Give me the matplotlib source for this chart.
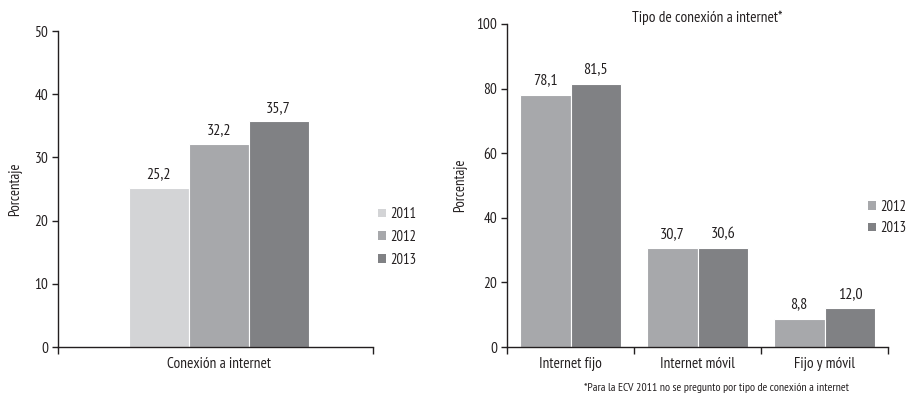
import matplotlib
matplotlib.use("Agg")
import matplotlib.pyplot as plt
from matplotlib.patches import Patch
import numpy as np

# =========================
# DATA
# =========================
years_left = ["2011", "2012", "2013"]
values_left = [25.2, 32.2, 35.7]
category_left = "Conexión a internet"

categories_right = ["Internet fijo", "Internet móvil", "Fijo y móvil"]
years_right = ["2012", "2013"]
values_2012 = [78.1, 30.7, 8.8]
values_2013 = [81.5, 30.6, 12.0]

title_right = "Tipo de conexión a internet*"
footnote = "*Para la ECV 2011 no se pregunto por tipo de conexión a internet"

colors = {"2011": "#d3d4d6", "2012": "#a7a8ab", "2013": "#808184"}

plt.rcParams["font.family"] = ["PT Sans Narrow", "DejaVu Sans"]
plt.rcParams["font.size"] = 10.5
plt.rcParams["text.color"] = "#231f20"
plt.rcParams["axes.labelcolor"] = "#231f20"
plt.rcParams["xtick.color"] = "#231f20"
plt.rcParams["ytick.color"] = "#231f20"


def fmt(v):
    return f"{v:.1f}".replace(".", ",")


def style_axes(ax, pad):
    for s in ("top", "right"):
        ax.spines[s].set_visible(False)
    for s in ("left", "bottom"):
        ax.spines[s].set_color("#231f20")
        ax.spines[s].set_linewidth(1.0)
    ax.tick_params(axis="y", length=4, width=1, pad=3, labelsize=11)
    ax.tick_params(axis="x", which="major", length=0, pad=7, labelsize=11)
    ax.tick_params(axis="x", which="minor", length=5, width=1)
    ax.set_ylabel("Porcentaje", fontsize=10.5, labelpad=pad)


fig = plt.figure(figsize=(9.08, 3.96), dpi=100)

# ---- LEFT ----
ax1 = fig.add_axes([0.0639, 0.1237, 0.347, 0.798])
w = 0.19
for i, (yr, v) in enumerate(zip(years_left, values_left)):
    x = (i - 1) * w
    ax1.bar(x, v, width=w, color=colors[yr], edgecolor="white", linewidth=0.8)
    ax1.text(x, v + 1.0, fmt(v), ha="center", va="bottom", fontsize=11.5)
ax1.set_xlim(-0.51, 0.49)
ax1.set_ylim(0, 50)
ax1.set_yticks(np.arange(0, 51, 10))
ax1.set_xticks([0])
ax1.set_xticklabels([category_left])
ax1.set_xticks([-0.51, 0.49], minor=True)
style_axes(ax1, 9)

handles = [Patch(facecolor=colors[y], edgecolor="none") for y in years_left]
fig.legend(handles, years_left, loc="center left", bbox_to_anchor=(0.416, 0.4015),
           frameon=False, borderpad=0, borderaxespad=0, handlelength=0.55,
           handleheight=0.55, handletextpad=0.3, labelspacing=0.6, fontsize=10.5)

# ---- RIGHT ----
ax2 = fig.add_axes([0.5584, 0.1237, 0.4196, 0.8157])
xr = np.arange(len(categories_right))
w2 = 0.4
for j, (yr, vals) in enumerate(zip(years_right, [values_2012, values_2013])):
    xs = xr + (j - 0.5) * w2
    ax2.bar(xs, vals, width=w2, color=colors[yr], edgecolor="white", linewidth=0.8)
    for x, v in zip(xs, vals):
        ax2.text(x, v + 2.2, fmt(v), ha="center", va="bottom", fontsize=11.5)
ax2.set_xlim(-0.5, len(categories_right) - 0.5)
ax2.set_ylim(0, 100)
ax2.set_yticks(np.arange(0, 101, 20))
ax2.set_xticks(xr)
ax2.set_xticklabels(categories_right)
ax2.set_xticks(np.arange(-0.5, len(categories_right), 1), minor=True)
style_axes(ax2, 7)
fig.text(707 / 908, 1 - 18 / 396, title_right, ha="center", va="center", fontsize=11)
fig.text(716 / 908, 1 - 388 / 396, footnote, ha="center", va="center", fontsize=8.5)

handles2 = [Patch(facecolor=colors[y], edgecolor="none") for y in years_right]
fig.legend(handles2, years_right, loc="center left", bbox_to_anchor=(0.956, 0.4508),
           frameon=False, borderpad=0, borderaxespad=0, handlelength=0.55,
           handleheight=0.55, handletextpad=0.3, labelspacing=0.5, fontsize=10.5)

fig.savefig("out.png", dpi=100)
